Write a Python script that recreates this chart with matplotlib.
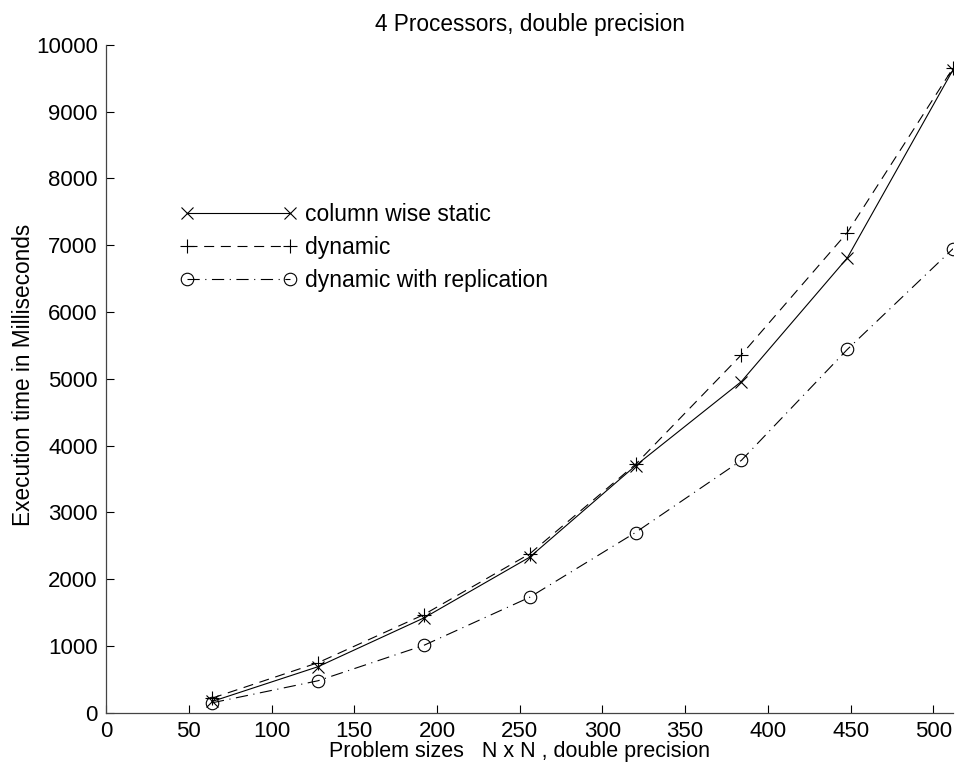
import numpy as np
import matplotlib.pyplot as plt

plt.rcParams['font.family'] = ['Liberation Sans', 'DejaVu Sans']

sizes = [64, 128, 192, 256, 320, 384, 448, 512]
static_ms = [170, 690, 1420, 2330, 3700, 4960, 6810, 9630]
dynamic_ms = [220, 750, 1470, 2380, 3720, 5360, 7190, 9655]
replic_ms = [150, 480, 1010, 1730, 2700, 3780, 5440, 6950]
labels = ['column wise static', 'dynamic', 'dynamic with replication']

fig = plt.figure(figsize=(9.56, 7.74), dpi=100)
ax = fig.add_axes([0.111, 0.079, 0.886, 0.863])

ax.plot(sizes, static_ms, color='k', lw=0.8, ls='-', marker='x', ms=9,
        mew=0.8, label=labels[0])
ax.plot(sizes, dynamic_ms, color='k', lw=0.8, ls=(0, (9, 6)), marker='+', ms=10,
        mew=0.8, label=labels[1])
ax.plot(sizes, replic_ms, color='k', lw=0.8, ls=(0, (11, 5, 1, 5)), marker='o', ms=9,
        mew=0.8, mfc='none', label=labels[2])

ax.set_xlim(0, 512)
ax.set_ylim(0, 10000)
ax.set_xticks(np.arange(0, 501, 50))
ax.set_yticks(np.arange(0, 10001, 1000))
ax.tick_params(direction='in', length=6, width=0.8, labelsize=16, pad=6)
for s in ['top', 'right']:
    ax.spines[s].set_visible(False)
for s in ['left', 'bottom']:
    ax.spines[s].set_linewidth(0.9)
    ax.spines[s].set_color('#444444')

ax.set_title('4 Processors, double precision', fontsize=16.3, pad=10)
ax.set_xlabel('Problem sizes   N x N , double precision', fontsize=15.5)
ax.xaxis.set_label_coords(0.488, -0.042)
ax.set_ylabel('Execution time in Milliseconds', fontsize=16.3, labelpad=0)
ax.yaxis.set_label_coords(-0.0845, 0.506)

ax.legend(loc='upper left', bbox_to_anchor=(0.063, 0.794), frameon=False,
          numpoints=2, handlelength=5.1, fontsize=16.5, labelspacing=0.43,
          handletextpad=0.36)

fig.savefig('out.png', dpi=100)
